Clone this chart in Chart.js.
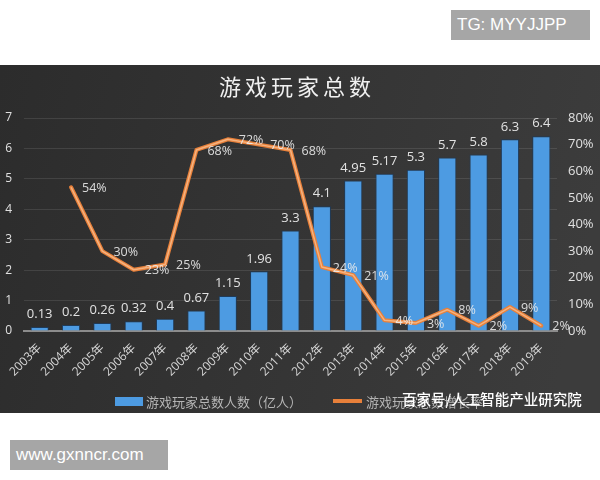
<!DOCTYPE html>
<html>
<head>
<meta charset="utf-8">
<script src="https://cdn.jsdelivr.net/npm/chart.js@4.4.1/dist/chart.umd.min.js"></script>
<style>
  html, body { margin: 0; padding: 0; background: #fff; }
  #wrap { position: relative; width: 600px; height: 480px; overflow: hidden; }
  #c { position: absolute; left: 0; top: 0; }
  .tag {
    position: absolute; background: #a6a6a6; color: #fff;
    font-family: "Liberation Sans", Arial, sans-serif; font-size: 17px;
    line-height: 30px; height: 30px; padding: 0 6px; white-space: nowrap;
  }
</style>
</head>
<body>
<div id="wrap">
  <canvas id="c" width="600" height="480"></canvas>
  <div class="tag" style="left:451px;top:10px;width:127px;">TG: MYYJJPP</div>
  <div class="tag" style="left:10px;top:440px;width:146px;">www.gxnncr.com</div>
</div>
<script>
// Categories and series
const years = ['2003年','2004年','2005年','2006年','2007年','2008年','2009年','2010年','2011年',
               '2012年','2013年','2014年','2015年','2016年','2017年','2018年','2019年'];
const players = [0.13, 0.2, 0.26, 0.32, 0.4, 0.67, 1.15, 1.96, 3.3, 4.1, 4.95, 5.17, 5.3, 5.7, 5.8, 6.3, 6.4];
const growth = [null, 54, 30, 23, 25, 68, 72, 70, 68, 24, 21, 4, 3, 8, 2, 9, 2];

// Axis ticks
const leftTicks = [0, 1, 2, 3, 4, 5, 6, 7];
const rightTicks = [0, 10, 20, 30, 40, 50, 60, 70, 80];

// Texts
const titleText = '游戏玩家总数';
const seriesNames = ['游戏玩家总数人数（亿人）', '游戏玩家总数增长率'];
const sourceNote = '百家号/人工智能产业研究院';

const BAR_COLOR = '#4d9be2';
const LINE_COLOR = '#e8803a';
const CJK = '"Noto Sans CJK SC", "Noto Sans", sans-serif';

// Dark backdrop panel behind the chart
const panelPlugin = {
  id: 'panel',
  beforeDraw(chart) {
    const ctx = chart.ctx;
    ctx.save();
    ctx.fillStyle = '#ffffff';
    ctx.fillRect(0, 0, chart.width, chart.height);
    const g = ctx.createLinearGradient(0, 65, 600, 200);
    g.addColorStop(0, '#2c2c2c');
    g.addColorStop(1, '#3c3c3c');
    ctx.fillStyle = g;
    ctx.fillRect(0, 65, 600, 348);
    ctx.restore();
  }
};

// Light core stroke along the growth line for a soft glowing look
const lineCorePlugin = {
  id: 'lineCore',
  afterDatasetDraw(chart, args) {
    if (args.index !== 1) return;
    const pts = args.meta.data;
    const ctx = chart.ctx;
    ctx.save();
    ctx.strokeStyle = 'rgba(250,195,150,0.75)';
    ctx.lineWidth = 1.5;
    ctx.lineJoin = 'round';
    ctx.beginPath();
    let started = false;
    pts.forEach((p, i) => {
      if (growth[i] == null) { started = false; return; }
      if (!started) { ctx.moveTo(p.x, p.y); started = true; }
      else ctx.lineTo(p.x, p.y);
    });
    ctx.stroke();
    ctx.restore();
  }
};

// Value labels above bars and beside line points
const labelPlugin = {
  id: 'valueLabels',
  afterDatasetsDraw(chart) {
    const ctx = chart.ctx;
    ctx.save();
    const barMeta = chart.getDatasetMeta(0);
    ctx.fillStyle = '#e2e2e2';
    ctx.font = '13px "Open Sans", "Noto Sans", sans-serif';
    ctx.textAlign = 'center';
    ctx.textBaseline = 'bottom';
    barMeta.data.forEach((el, i) => {
      ctx.fillText(String(players[i]), el.x, el.y - 6);
    });
    const lineMeta = chart.getDatasetMeta(1);
    ctx.fillStyle = 'rgba(235,235,235,0.9)';
    ctx.font = '12.5px "Open Sans", "Noto Sans", sans-serif';
    ctx.textAlign = 'left';
    ctx.textBaseline = 'middle';
    lineMeta.data.forEach((el, i) => {
      if (growth[i] == null) return;
      ctx.fillText(growth[i] + '%', el.x + 11, el.y + 1);
    });
    ctx.restore();
  }
};

// Title, legend and source note
const decorPlugin = {
  id: 'decor',
  afterDraw(chart) {
    const ctx = chart.ctx;
    ctx.save();
    ctx.fillStyle = '#f0f0f0';
    ctx.font = '22px ' + CJK;
    ctx.textAlign = 'center';
    ctx.textBaseline = 'middle';
    if ('letterSpacing' in ctx) ctx.letterSpacing = '4px';
    ctx.fillText(titleText, 297, 87);
    if ('letterSpacing' in ctx) ctx.letterSpacing = '0px';

    // legend
    ctx.fillStyle = BAR_COLOR;
    ctx.fillRect(115, 397, 28, 9);
    ctx.font = '13px ' + CJK;
    ctx.textAlign = 'left';
    ctx.fillStyle = '#b5b5b5';
    ctx.fillText(seriesNames[0], 146, 402);
    ctx.strokeStyle = LINE_COLOR;
    ctx.lineWidth = 4;
    ctx.beginPath();
    ctx.moveTo(333, 401);
    ctx.lineTo(362, 401);
    ctx.stroke();
    ctx.fillText(seriesNames[1], 366, 402);

    // source note
    ctx.fillStyle = '#ffffff';
    ctx.font = '500 14.5px ' + CJK;
    ctx.fillText(sourceNote, 402, 399);
    ctx.restore();
  }
};

new Chart(document.getElementById('c'), {
  data: {
    labels: years,
    datasets: [
      {
        type: 'bar',
        label: seriesNames[0],
        data: players,
        yAxisID: 'y',
        backgroundColor: BAR_COLOR,
        borderColor: '#1f3b5a',
        borderWidth: 1,
        categoryPercentage: 1,
        barPercentage: 0.58,
        order: 2
      },
      {
        type: 'line',
        label: seriesNames[1],
        data: growth,
        yAxisID: 'y1',
        borderColor: LINE_COLOR,
        borderWidth: 4,
        pointRadius: 0,
        tension: 0,
        borderJoinStyle: 'round',
        borderCapStyle: 'round',
        spanGaps: false,
        order: 1
      }
    ]
  },
  options: {
    responsive: false,
    animation: false,
    layout: { padding: { top: 118, left: 0, right: 0, bottom: 0 } },
    plugins: {
      legend: { display: false },
      title: { display: false },
      tooltip: { enabled: false }
    },
    scales: {
      x: {
        offset: true,
        grid: { display: false },
        border: { display: true, color: '#8c8c8c', width: 2 },
        ticks: {
          color: '#d6d6d6',
          font: { size: 12, family: '"Open Sans", "Noto Sans CJK SC", sans-serif' },
          minRotation: 45,
          maxRotation: 45,
          autoSkip: false,
          padding: 2
        },
        afterFit(scale) { scale.height = 149; }
      },
      y: {
        position: 'left',
        min: leftTicks[0],
        max: leftTicks[leftTicks.length - 1],
        afterBuildTicks(scale) { scale.ticks = leftTicks.map(v => ({ value: v })); },
        grid: { color: 'rgba(255,255,255,0.10)', drawTicks: false },
        border: { display: false },
        ticks: {
          color: '#e0e0e0',
          font: { size: 12, family: '"Open Sans", "Noto Sans", sans-serif' },
          padding: 12
        },
        afterFit(scale) { scale.width = 24; }
      },
      y1: {
        position: 'right',
        min: rightTicks[0],
        max: rightTicks[rightTicks.length - 1],
        afterBuildTicks(scale) { scale.ticks = rightTicks.map(v => ({ value: v })); },
        grid: { display: false, drawTicks: false },
        border: { display: false },
        ticks: {
          color: '#e0e0e0',
          font: { size: 13, family: '"Open Sans", "Noto Sans", sans-serif' },
          padding: 11,
          callback: v => v + '%'
        },
        afterFit(scale) { scale.width = 43; }
      }
    }
  },
  plugins: [panelPlugin, lineCorePlugin, labelPlugin, decorPlugin]
});
</script>
</body>
</html>
